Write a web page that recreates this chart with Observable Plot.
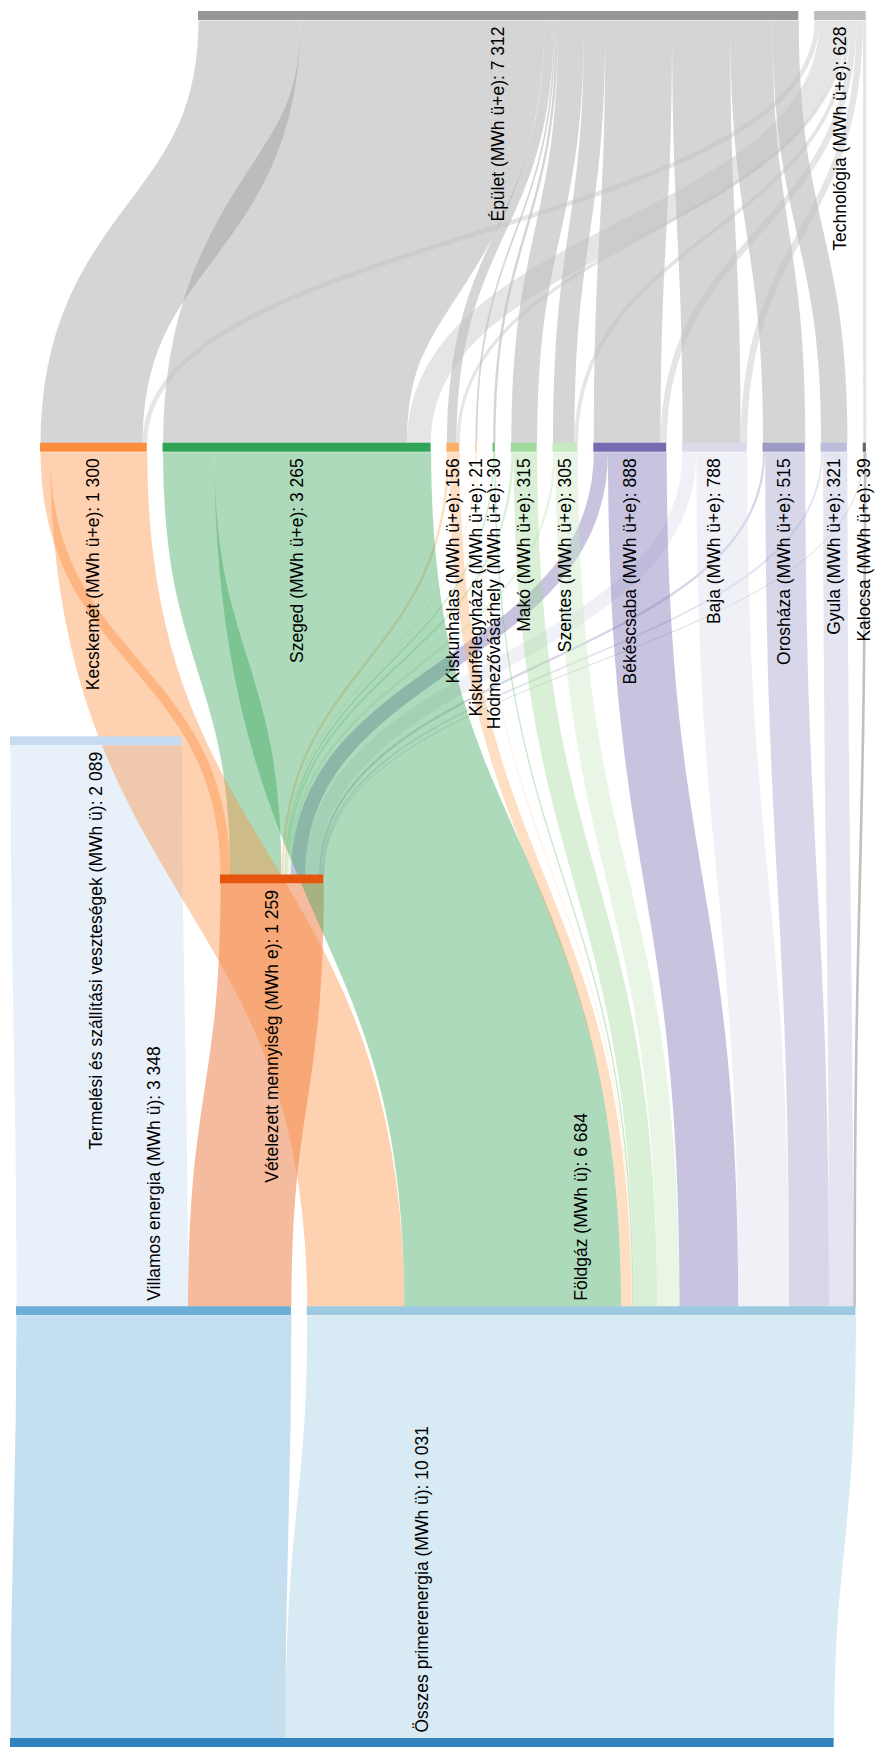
<!DOCTYPE html>
<html>
<head>
<meta charset="utf-8">
<script src="https://cdn.jsdelivr.net/npm/d3@7"></script>
<script src="https://cdn.jsdelivr.net/npm/@observablehq/plot@0.6"></script>
<style>
  html, body { margin: 0; padding: 0; background: #ffffff; }
  #chart svg { display: block; }
</style>
</head>
<body>
<div id="chart"></div>
<script>
// ------------------------------------------------------------------
// DATA
// ------------------------------------------------------------------
// Nodes (name, unit, stated total)
const nodeNames = [
  "Összes primerenergia", "Villamos energia", "Földgáz",
  "Termelési és szállítási veszteségek", "Vételezett mennyiség",
  "Kecskemét", "Szeged", "Kiskunhalas", "Kiskunfélegyháza", "Hódmezővásárhely",
  "Makó", "Szentes", "Békéscsaba", "Baja", "Orosháza", "Gyula", "Kalocsa",
  "Épület", "Technológia"
];
const nodeUnits = [
  "MWh ü", "MWh ü", "MWh ü", "MWh ü", "MWh e",
  "MWh ü+e", "MWh ü+e", "MWh ü+e", "MWh ü+e", "MWh ü+e",
  "MWh ü+e", "MWh ü+e", "MWh ü+e", "MWh ü+e", "MWh ü+e", "MWh ü+e", "MWh ü+e",
  "MWh ü+e", "MWh ü+e"
];
const nodeValues = [
  10031, 3348, 6684, 2089, 1259,
  1300, 3265, 156, 21, 30, 315, 305, 888, 788, 515, 321, 39,
  7312, 628
];

// Összes primerenergia -> Villamos energia, Földgáz
const primaryTargets = ["Villamos energia", "Földgáz"];
const primaryValues = [3348, 6684];

// Villamos energia -> Termelési és szállítási veszteségek, Vételezett mennyiség
const electricityTargets = ["Termelési és szállítási veszteségek", "Vételezett mennyiség"];
const electricityValues = [2089, 1259];

// Cities: inflow from Vételezett mennyiség (e) and Földgáz (ü),
// outflow to Épület and Technológia
const cities = ["Kecskemét", "Szeged", "Kiskunhalas", "Kiskunfélegyháza", "Hódmezővásárhely",
  "Makó", "Szentes", "Békéscsaba", "Baja", "Orosháza", "Gyula", "Kalocsa"];
const cityElectricity = [117, 625, 30, 11, 14, 28, 32, 173, 169, 28, 25, 7];
const cityGas         = [1183, 2640, 126, 10, 16, 287, 273, 715, 619, 487, 296, 32];
const cityBuilding    = [1243, 2970, 116, 21, 30, 315, 260, 813, 708, 515, 321, 0];
const cityTechnology  = [57, 292, 40, 0, 0, 0, 45, 75, 80, 0, 0, 39];

// ------------------------------------------------------------------
// STYLE / LAYOUT SETTINGS
// ------------------------------------------------------------------
const palette = [
  "#3182bd", "#6baed6", "#9ecae1", "#c6dbef", "#e6550d",
  "#fd8d3c", "#31a354", "#fdae6b", "#fdd0a2", "#74c476",
  "#a1d99b", "#c7e9c0", "#756bb1", "#dadaeb", "#9e9ac8", "#bcbddc", "#636363",
  "#969696", "#bdbdbd"
];
const W = 876, H = 1758;
const MARGIN_TOP = 11, MARGIN_BOTTOM = 20;
const PX_PER_MWH = 0.0821;          // horizontal value scale
const PAD_PX = 15.8;                // gap between neighbouring nodes
const BAR_PX = 9;                   // node bar thickness
const STAGE_MAX = 4;
const STAGE_PX = (H - MARGIN_TOP - MARGIN_BOTTOM) / STAGE_MAX;
const THICK = BAR_PX / STAGE_PX;    // bar thickness in stage units
const PAD = PAD_PX / PX_PER_MWH;
const rows = [
  {stage: 0,    startPx: 10,  nodes: ["Összes primerenergia"]},
  {stage: 1,    startPx: 16,  nodes: ["Villamos energia", "Földgáz"]},
  {stage: 2.32, startPx: 10,  nodes: ["Termelési és szállítási veszteségek"]},
  {stage: 2,    startPx: 220, nodes: ["Vételezett mennyiség"]},
  {stage: 3,    startPx: 40,  nodes: cities},
  {stage: 4,    startPx: 198, nodes: ["Épület", "Technológia"]}
];

// ------------------------------------------------------------------
// BUILD LINKS + SANKEY LAYOUT
// ------------------------------------------------------------------
const links = [];
const addLink = (source, target, value) => { if (value > 0) links.push({source, target, value}); };
primaryTargets.forEach((t, i) => addLink("Összes primerenergia", t, primaryValues[i]));
electricityTargets.forEach((t, i) => addLink("Villamos energia", t, electricityValues[i]));
cities.forEach((c, i) => addLink("Vételezett mennyiség", c, cityElectricity[i]));
cities.forEach((c, i) => addLink("Földgáz", c, cityGas[i]));
cities.forEach((c, i) => addLink(c, "Épület", cityBuilding[i]));
cities.forEach((c, i) => addLink(c, "Technológia", cityTechnology[i]));

const fmt = d3.formatLocale({decimal: ",", thousands: " ", grouping: [3], currency: ["", ""]}).format(",");

const nodeMap = new Map();
for (const row of rows) {
  let cursor = row.startPx / PX_PER_MWH;
  for (const name of row.nodes) {
    const i = nodeNames.indexOf(name);
    const inSum = d3.sum(links.filter(l => l.target === name), l => l.value);
    const outSum = d3.sum(links.filter(l => l.source === name), l => l.value);
    const size = Math.max(inSum, outSum);
    const n = {
      name, stage: row.stage, x0: cursor, x1: cursor + size,
      label: `${name} (${nodeUnits[i]}): ${fmt(nodeValues[i])}`
    };
    n.xc = (n.x0 + n.x1) / 2;
    n.below = n.stage >= 2;
    nodeMap.set(name, n);
    cursor = n.x1 + PAD;
  }
}
for (const n of nodeMap.values()) {
  const outs = links.filter(l => l.source === n.name)
    .sort((a, b) => nodeMap.get(a.target).x0 - nodeMap.get(b.target).x0);
  let off = n.x0;
  for (const l of outs) { l.sx = off + l.value / 2; off += l.value; }
  const ins = links.filter(l => l.target === n.name)
    .sort((a, b) => nodeMap.get(a.source).x0 - nodeMap.get(b.source).x0);
  off = n.x0;
  for (const l of ins) { l.tx = off + l.value / 2; off += l.value; }
}
const linkData = links.map(l => ({
  ...l,
  y1: nodeMap.get(l.source).stage,
  y2: nodeMap.get(l.target).stage - THICK
}));
const nodeData = Array.from(nodeMap.values());

// ------------------------------------------------------------------
// PLOT
// ------------------------------------------------------------------
const FONT = "'Liberation Sans', Arial, Helvetica, sans-serif";
const chart = Plot.plot({
  width: W,
  height: H,
  marginTop: MARGIN_TOP,
  marginBottom: MARGIN_BOTTOM,
  marginLeft: 0,
  marginRight: 0,
  x: {domain: [0, W / PX_PER_MWH], axis: null},
  y: {domain: [0, STAGE_MAX], axis: null},
  color: {type: "ordinal", domain: nodeNames, range: palette},
  style: {fontFamily: FONT, background: "#ffffff"},
  marks: [
    Plot.link(linkData, {
      x1: "sx", y1: "y1", x2: "tx", y2: "y2",
      curve: "bump-y",
      stroke: "target",
      strokeOpacity: 0.4,
      strokeWidth: d => d.value * PX_PER_MWH
    }),
    Plot.rect(nodeData, {
      x1: "x0", x2: "x1",
      y1: d => d.stage - THICK, y2: "stage",
      fill: "name"
    }),
    Plot.text(nodeData.filter(d => d.below), {
      x: "xc", y: d => d.stage - THICK, text: "label",
      rotate: -90, textAnchor: "end", dy: 6,
      fill: "#000", fontSize: 17.5, fontFamily: FONT
    }),
    Plot.text(nodeData.filter(d => !d.below), {
      x: "xc", y: "stage", text: "label",
      rotate: -90, textAnchor: "start", dy: -6,
      fill: "#000", fontSize: 17.5, fontFamily: FONT
    })
  ]
});
document.getElementById("chart").appendChild(chart);
</script>
</body>
</html>
